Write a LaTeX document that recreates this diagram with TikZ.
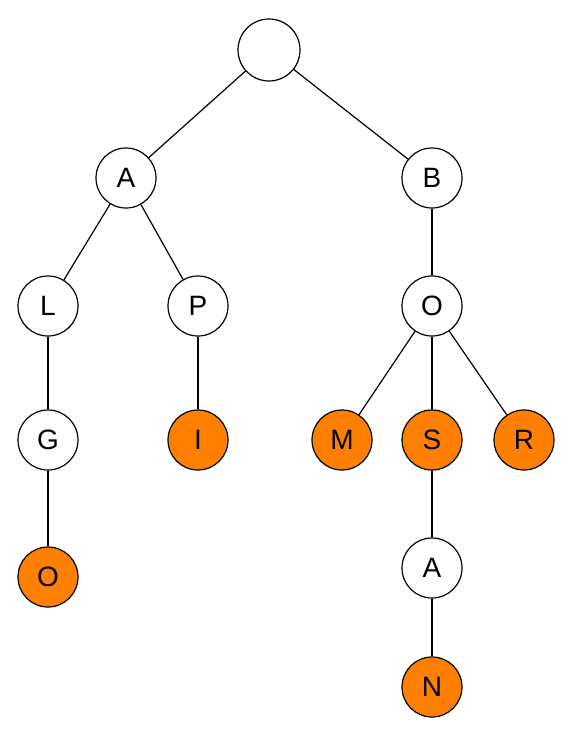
\documentclass[tikz,border=0pt]{standalone}
\usepackage{fontspec}
\setmainfont{Liberation Sans}
\definecolor{treeorange}{HTML}{FF8000}
\begin{document}
\begin{tikzpicture}[x=1pt,y=-1pt,
  tn/.style={circle,draw=black,line width=1.2pt,minimum size=60pt,inner sep=0pt,fill=white,font=\fontsize{28}{32}\selectfont},
  leaf/.style={tn,fill=treeorange},
  edge/.style={line width=1.2pt}]
\useasboundingbox (0,0) rectangle (575,739);
\node[tn,minimum size=62pt] (root) at (269,50) {};
\node[tn] (A) at (126,178) {A};
\node[tn] (B) at (432,178) {B};
\node[tn] (L) at (48,306) {L};
\node[tn] (P) at (198,306) {P};
\node[tn] (O) at (432,306) {O};
\node[tn] (G) at (48,440) {G};
\node[leaf] (I) at (198,440) {I};
\node[leaf] (M) at (342,440) {M};
\node[leaf] (S) at (432,440) {S};
\node[leaf] (R) at (524,440) {R};
\node[leaf] (O2) at (48,577) {O};
\node[tn] (A2) at (432,568) {A};
\node[leaf] (N) at (432,687) {N};
\draw[edge] (root) -- (A);
\draw[edge] (root) -- (B);
\draw[edge] (A) -- (L);
\draw[edge] (A) -- (P);
\draw[edge] (B) -- (O);
\draw[edge] (L) -- (G);
\draw[edge] (P) -- (I);
\draw[edge] (G) -- (O2);
\draw[edge] (O) -- (M);
\draw[edge] (O) -- (S);
\draw[edge] (O) -- (R);
\draw[edge] (S) -- (A2);
\draw[edge] (A2) -- (N);
\end{tikzpicture}
\end{document}
